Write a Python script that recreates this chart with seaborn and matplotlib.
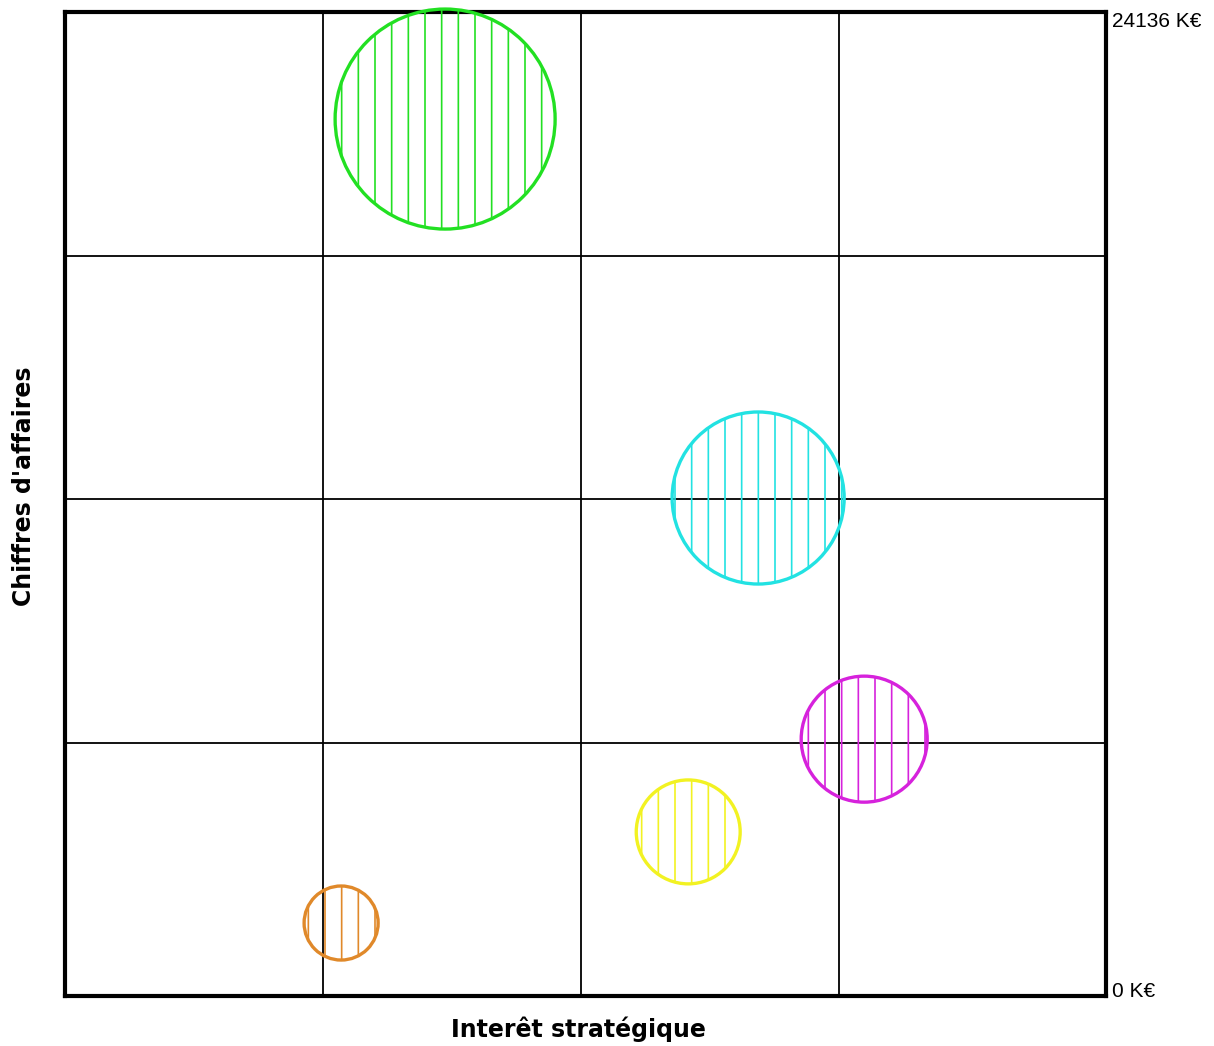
import matplotlib
matplotlib.use("Agg")
import matplotlib.pyplot as plt
import seaborn as sns
import pandas as pd

# Portefeuille d'activités : intérêt stratégique vs chiffre d'affaires
activites = ["A", "B", "C", "D", "E"]
interet = [1.473, 2.686, 3.097, 2.415, 1.070]         # échelle 0..4
chiffre_affaires = [21510, 12215, 6300, 4025, 1790]  # K€
poids = [121.0, 74.0, 39.7, 27.0, 13.7]              # taille relative des bulles
couleurs = ["#22e022", "#22e2e2", "#d622dc", "#f2f222", "#e0892a"]

ca_max = 24136
y_labels = ["24136 K€", "0 K€"]

df = pd.DataFrame({
    "activite": activites,
    "interet": interet,
    "ca": chiffre_affaires,
    "poids": poids,
})

sns.set_theme(style="white")
plt.rcParams["hatch.linewidth"] = 1.2

fig = plt.figure(figsize=(12.14, 10.46), dpi=100)
ax = fig.add_axes([65 / 1214, 50 / 1046, 1041 / 1214, 984 / 1046])

# grid of 4 cells; the last column and the bottom row are slightly larger
n_cols = 4.034
n_rows = 4.038
s_max = (220 * 72 / 100) ** 2

# one collection per activity so each hatch takes its own colour
for (_, row), col in zip(df.iterrows(), couleurs):
    sns.scatterplot(
        data=df[df["activite"] == row["activite"]], x="interet", y="ca",
        size="poids", sizes=(0, s_max), size_norm=(0, max(poids)),
        legend=False, ax=ax, clip_on=False, zorder=5,
        facecolor="none", edgecolor=col, linewidth=2.4, hatch="|",
    )
    coll = ax.collections[-1]
    coll.set_facecolor("none")
    coll.set_edgecolor(col)
    coll.set_hatch("|")

ax.set_xlim(0, n_cols)
ax.set_ylim(0, ca_max)
ax.set_xticks([1, 2, 3])
ax.set_yticks([ca_max * (1 - k / n_rows) for k in (1, 2, 3)])
ax.tick_params(length=0, labelbottom=False, labelleft=False)
ax.grid(True, color="black", linewidth=1.3)
for sp in ax.spines.values():
    sp.set_visible(True)
    sp.set_color("black")
    sp.set_linewidth(3)

ax.set_xlabel("Interêt stratégique", fontsize=17, fontweight="bold",
              family="DejaVu Sans", color="black")
ax.set_ylabel("Chiffres d'affaires", fontsize=17, fontweight="bold",
              family="DejaVu Sans", color="black")
ax.xaxis.set_label_coords((578 - 65) / 1041, -20 / 984)
ax.yaxis.set_label_coords(-29 / 1041, (996 - 486) / 984)

ax.text(1.006, 1.0, y_labels[0], transform=ax.transAxes, ha="left", va="top",
        fontsize=15, family="Liberation Sans", color="black")
ax.text(1.006, -0.005, y_labels[1], transform=ax.transAxes, ha="left", va="bottom",
        fontsize=15, family="Liberation Sans", color="black")

fig.savefig("out.png", dpi=100, facecolor="white")
